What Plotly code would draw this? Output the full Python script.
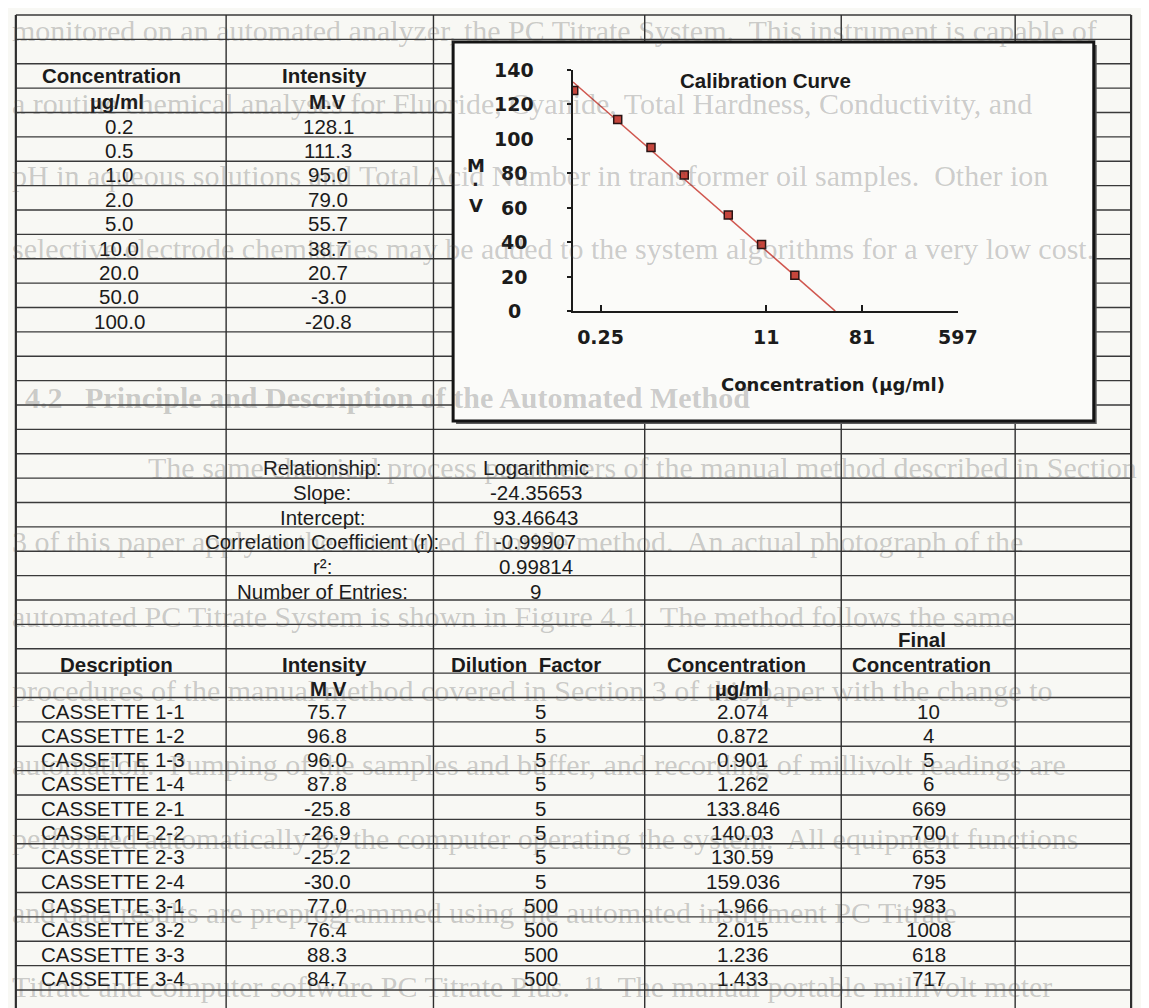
import math
import plotly.graph_objects as go

W, H = 1149, 1008

# ---------------- data ----------------
std_conc = [0.2, 0.5, 1.0, 2.0, 5.0, 10.0, 20.0, 50.0, 100.0]
std_conc_labels = ["0.2", "0.5", "1.0", "2.0", "5.0", "10.0", "20.0", "50.0", "100.0"]
std_mv = [128.1, 111.3, 95.0, 79.0, 55.7, 38.7, 20.7, -3.0, -20.8]
std_mv_labels = ["128.1", "111.3", "95.0", "79.0", "55.7", "38.7", "20.7", "-3.0", "-20.8"]

stat_names = ["Relationship:", "Slope:", "Intercept:", "Correlation Coefficient (r):",
              "r²:", "Number of Entries:"]
stat_values = ["Logarithmic", "-24.35653", "93.46643", "-0.99907", "0.99814", "9"]
slope = -24.35653
intercept = 93.46643

sample_desc = ["CASSETTE 1-1", "CASSETTE 1-2", "CASSETTE 1-3", "CASSETTE 1-4",
               "CASSETTE 2-1", "CASSETTE 2-2", "CASSETTE 2-3", "CASSETTE 2-4",
               "CASSETTE 3-1", "CASSETTE 3-2", "CASSETTE 3-3", "CASSETTE 3-4"]
sample_mv = ["75.7", "96.8", "96.0", "87.8", "-25.8", "-26.9", "-25.2", "-30.0",
             "77.0", "76.4", "88.3", "84.7"]
sample_dilution = ["5", "5", "5", "5", "5", "5", "5", "5", "500", "500", "500", "500"]
sample_conc = ["2.074", "0.872", "0.901", "1.262", "133.846", "140.03", "130.59", "159.036",
               "1.966", "2.015", "1.236", "1.433"]
sample_final = ["10", "4", "5", "6", "669", "700", "653", "795", "983", "1008", "618", "717"]

x_tick_vals = [0.35, 11, 81, 597]
x_tick_text = ["0.25", "11", "81", "597"]
y_tick_vals = [0, 20, 40, 60, 80, 100, 120, 140]
y_tick_text = ["0", "20", "40", "60", "80", "100", "120", "140"]

background_lines = [
    "monitored on an automated analyzer, the PC Titrate System.  This instrument is capable of",
    "a routine chemical analyses for Fluoride, Cyanide, Total Hardness, Conductivity, and",
    "pH in aqueous solutions and Total Acid Number in transformer oil samples.  Other ion",
    "selective electrode chemistries may be added to the system algorithms for a very low cost.",
    "<b>4.2   Principle and Description of the Automated Method</b>",
    "The same chemical process parameters of the manual method described in Section",
    "3 of this paper apply to the automated fluoride method.  An actual photograph of the",
    "automated PC Titrate System is shown in Figure 4.1.  The method follows the same",
    "procedures of the manual method covered in Section 3 of this paper with the change to",
    "automation.  Pumping of the samples and buffer, and recording of millivolt readings are",
    "performed automatically by the computer operating the system.  All equipment functions",
    "and data results are preprogrammed using the automated instrument PC Titrate",
    "Titrate and computer software PC Titrate Plus.  ¹¹  The manual portable millivolt meter",
]
background_y = [22, 95, 168, 240, 390, 460, 533, 608, 682, 756, 830, 904, 978]
background_x = [2, 2, 2, 2, 15, 140, 2, 2, 2, 2, 2, 2, 2]

# ---------------- helpers ----------------
def px(x):
    return x / W

def py(y):
    return 1 - y / H

SANS = "Liberation Sans, Arial, sans-serif"
WIDE = "DejaVu Sans, Verdana, sans-serif"
SERIF = "Liberation Serif, Times New Roman, serif"
INK = "#1b1b1b"
FS = 20.5

def ann(text, x, y, size=FS, bold=False, xanchor="center", family=SANS, color=INK):
    return dict(text=f"<b>{text}</b>" if bold else text, x=px(x), y=py(y),
                xref="paper", yref="paper", showarrow=False, xanchor=xanchor,
                yanchor="middle", font=dict(family=family, size=size, color=color))

# ---------------- chart ----------------
x_min = 0.197
x_max = 600
x_zero = math.exp(-intercept / slope)
fit_x = [x_min, x_zero]
fit_y = [intercept + slope * math.log(v) for v in fit_x]

fig = go.Figure()
fig.add_trace(go.Scatter(x=fit_x, y=fit_y, mode="lines",
                         line=dict(color="#d0574f", width=1.6), hoverinfo="skip",
                         showlegend=False))
fig.add_trace(go.Scatter(x=std_conc, y=std_mv, mode="markers",
                         marker=dict(symbol="square", size=8, color="#c5453c",
                                     line=dict(color="#2a1414", width=1.5)),
                         showlegend=False))

# ---------------- grid / shapes ----------------
shapes = []
col_x = [8, 222, 433, 648, 848, 1025, 1143]
row_top, row_h, n_rows = 7, 24.375, 40
for i in range(n_rows + 1):
    yy = row_top + row_h * i
    shapes.append(dict(type="line", xref="paper", yref="paper", x0=px(col_x[0]), x1=px(col_x[-1]),
                       y0=py(yy), y1=py(yy), line=dict(color="#3a3a3a", width=1.3), layer="below"))
for j, xx in enumerate(col_x):
    w = 2.2 if j in (0, len(col_x) - 1) else 1.4
    shapes.append(dict(type="line", xref="paper", yref="paper", x0=px(xx), x1=px(xx),
                       y0=py(row_top), y1=py(H), line=dict(color="#2e2e2e", width=w), layer="below"))
# chart box with shadow
shapes.append(dict(type="rect", xref="paper", yref="paper", x0=px(456), x1=px(1108),
                   y0=py(416), y1=py(37), fillcolor="#5a5a5a", line=dict(width=0), layer="below"))
shapes.append(dict(type="rect", xref="paper", yref="paper", x0=px(453), x1=px(1105),
                   y0=py(413), y1=py(34), fillcolor="#fbfbf9",
                   line=dict(color="#141414", width=3), layer="below"))

# ---------------- annotations ----------------
anns = []
# top-left table
anns.append(ann("Concentration", 105, 68, bold=True))
anns.append(ann("Intensity", 322, 68, bold=True))
anns.append(ann("µg/ml", 111, 93, bold=True))
anns.append(ann("M.V", 325, 93, bold=True))
for k, (c, m) in enumerate(zip(std_conc_labels, std_mv_labels)):
    yy = 118 + 24.4 * k
    anns.append(ann(c, 113, yy))
    anns.append(ann(m, 326, yy))

# statistics
for k, (n, v) in enumerate(zip(stat_names, stat_values)):
    yy = 460 + 24.6 * k
    anns.append(ann(n, 320, yy))
    anns.append(ann(v, 537, yy))

# sample table
anns.append(ann("Final", 930, 631, bold=True))
anns.append(ann("Description", 110, 656, bold=True))
anns.append(ann("Intensity", 322, 656, bold=True))
anns.append(ann("Dilution  Factor", 527, 656, bold=True))
anns.append(ann("Concentration", 741, 656, bold=True))
anns.append(ann("Concentration", 930, 656, bold=True))
anns.append(ann("M.V", 326, 680, bold=True))
anns.append(ann("µg/ml", 747, 680, bold=True))
for k in range(len(sample_desc)):
    yy = 703 + 24.3 * k
    anns.append(ann(sample_desc[k], 107, yy))
    anns.append(ann(sample_mv[k], 325, yy))
    anns.append(ann(sample_dilution[k], 542, yy))
    anns.append(ann(sample_conc[k], 748, yy))
    anns.append(ann(sample_final[k], 937, yy))

# chart texts
anns.append(ann("Calibration Curve", 771, 73, bold=True))
anns.append(ann("Concentration (µg/ml)", 840, 376, size=18, bold=True, family=WIDE))
anns.append(ann("M", 476, 157, size=18, bold=True, family=WIDE))
anns.append(ann(".", 476, 171, size=18, bold=True, family=WIDE))
anns.append(ann("V", 476, 198, size=18, bold=True, family=WIDE))
# y tick labels, centred as in the original, placed through the y axis scale
for v, t in zip(y_tick_vals, y_tick_text):
    anns.append(dict(text=f"<b>{t}</b>", x=px(515), y=v, xref="paper", yref="y",
                     showarrow=False, xanchor="center", yanchor="middle",
                     font=dict(family=WIDE, size=19, color=INK)))

# faint bleed-through text from the reverse page
for t, xx, yy in zip(background_lines, background_x, background_y):
    anns.append(ann(t, xx, yy, size=30, xanchor="left", family=SERIF,
                    color="rgba(70,70,70,0.27)"))

fig.update_layout(
    width=W, height=H,
    margin=dict(l=0, r=0, t=0, b=0),
    paper_bgcolor="#f8f8f4",
    plot_bgcolor="rgba(0,0,0,0)",
    shapes=shapes,
    annotations=anns,
    showlegend=False,
    xaxis=dict(type="log", domain=[px(575), px(967)],
               range=[math.log10(x_min), math.log10(x_max)],
               tickvals=x_tick_vals, ticktext=x_tick_text,
               ticks="inside", ticklen=6, tickwidth=1.5, tickcolor=INK,
               showline=True, linecolor=INK, linewidth=1.6,
               showgrid=False, zeroline=False, ticklabelstandoff=8,
               tickfont=dict(family=WIDE, size=19, color=INK, weight="bold")),
    yaxis=dict(domain=[py(303), py(62)], range=[0, 140],
               tickvals=y_tick_vals, showticklabels=False,
               ticks="outside", ticklen=4, tickwidth=1.5,
               tickcolor=INK, showline=True, linecolor=INK, linewidth=1.6,
               showgrid=False, zeroline=False),
)

fig.write_html("out.html")
